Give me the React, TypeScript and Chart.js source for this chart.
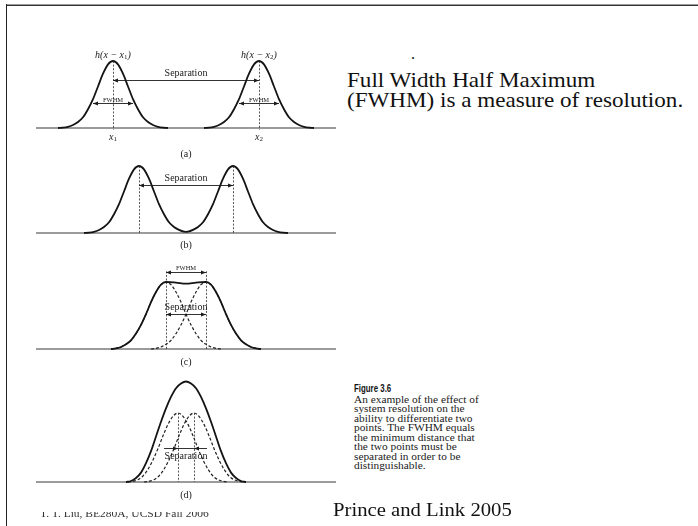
import React, { useEffect, useRef } from "react";
import { Chart, registerables } from "chart.js";
Chart.register(...registerables);

// ================= DATA =================
// Panel (a): two widely separated point responses
const aPeaks = [77, 223];
const aLeftX = [22, 27, 32, 37, 42, 47, 52, 57, 62, 67, 72, 77, 82, 87, 92, 97, 102, 107, 112, 117, 122, 127, 132];
const aLeftY = [0, 0.005, 0.018, 0.045, 0.09, 0.16, 0.28, 0.43, 0.62, 0.81, 0.95, 1, 0.95, 0.81, 0.62, 0.43, 0.28, 0.16, 0.09, 0.045, 0.018, 0.005, 0];
const aRightX = [168, 173, 178, 183, 188, 193, 198, 203, 208, 213, 218, 223, 228, 233, 238, 243, 248, 253, 258, 263, 268, 273, 278];
const aRightY = [0, 0.005, 0.018, 0.045, 0.09, 0.16, 0.28, 0.43, 0.62, 0.81, 0.95, 1, 0.95, 0.81, 0.62, 0.43, 0.28, 0.16, 0.09, 0.045, 0.018, 0.005, 0];

// Panel (b): separated, valley reaches the baseline
const bPeaks = [103, 197];
const bX = [48, 53, 58, 63, 68, 73, 78, 83, 88, 93, 98, 103, 108, 113, 118, 123, 128, 133, 138, 143, 148, 150, 152, 157, 162, 167, 172, 177, 182, 187, 192, 197, 202, 207, 212, 217, 222, 227, 232, 237, 242, 247, 252];
const bY = [0, 0.005, 0.018, 0.045, 0.09, 0.16, 0.28, 0.43, 0.62, 0.81, 0.95, 1, 0.95, 0.81, 0.62, 0.43, 0.28, 0.16, 0.09, 0.047, 0.02, 0.018, 0.02, 0.047, 0.09, 0.16, 0.28, 0.43, 0.62, 0.81, 0.95, 1, 0.95, 0.81, 0.62, 0.43, 0.28, 0.16, 0.09, 0.045, 0.018, 0.005, 0];

// Panel (c): separation equal to FWHM
const cPeaks = [130, 170];
const cSolidX = [75, 80, 85, 90, 95, 100, 105, 110, 115, 120, 125, 130, 140, 150, 160, 170, 175, 180, 185, 190, 195, 200, 205, 210, 215, 220, 225];
const cSolidY = [0, 0.01, 0.03, 0.07, 0.13, 0.23, 0.36, 0.52, 0.7, 0.85, 0.96, 1, 0.99, 0.975, 0.99, 1, 0.96, 0.85, 0.7, 0.52, 0.36, 0.23, 0.13, 0.07, 0.03, 0.01, 0];
const cDashLeftX = [75, 80, 85, 90, 95, 100, 105, 110, 115, 120, 125, 130, 135, 140, 145, 150, 155, 160, 165, 170, 175, 180, 185];
const cDashLeftY = [0, 0.01, 0.03, 0.07, 0.13, 0.23, 0.36, 0.52, 0.7, 0.85, 0.96, 1, 0.96, 0.85, 0.7, 0.52, 0.36, 0.23, 0.13, 0.07, 0.03, 0.01, 0];
const cDashRightX = [115, 120, 125, 130, 135, 140, 145, 150, 155, 160, 165, 170, 175, 180, 185, 190, 195, 200, 205, 210, 215, 220, 225];
const cDashRightY = [0, 0.01, 0.03, 0.07, 0.13, 0.23, 0.36, 0.52, 0.7, 0.85, 0.96, 1, 0.96, 0.85, 0.7, 0.52, 0.36, 0.23, 0.13, 0.07, 0.03, 0.01, 0];

// Panel (d): separation smaller than FWHM, the sum shows one peak
const dPeaks = [142, 158];
const dSolidX = [90, 95, 100, 105, 110, 115, 120, 125, 130, 135, 140, 145, 150, 155, 160, 165, 170, 175, 180, 185, 190, 195, 200, 205, 210];
const dSolidY = [0, 0.015, 0.06, 0.14, 0.28, 0.46, 0.68, 0.9, 1.1, 1.27, 1.4, 1.47, 1.5, 1.47, 1.4, 1.27, 1.1, 0.9, 0.68, 0.46, 0.28, 0.14, 0.06, 0.015, 0];
const dDashLeftX = [92, 97, 102, 107, 112, 117, 122, 127, 132, 137, 142, 147, 152, 157, 162, 167, 172, 177, 182, 187, 192];
const dDashLeftY = [0, 0.01, 0.035, 0.09, 0.19, 0.33, 0.5, 0.69, 0.86, 0.98, 1.03, 0.98, 0.86, 0.69, 0.5, 0.33, 0.19, 0.09, 0.035, 0.01, 0];
const dDashRightX = [108, 113, 118, 123, 128, 133, 138, 143, 148, 153, 158, 163, 168, 173, 178, 183, 188, 193, 198, 203, 208];
const dDashRightY = [0, 0.01, 0.035, 0.09, 0.19, 0.33, 0.5, 0.69, 0.86, 0.98, 1.03, 0.98, 0.86, 0.69, 0.5, 0.33, 0.19, 0.09, 0.035, 0.01, 0];

const baseX = [0, 300];
const baseY = [0, 0];

// ================= STYLE / LAYOUT =================
const SERIF = '"Liberation Serif", "Times New Roman", serif';
const SANS = '"Liberation Sans", Arial, sans-serif';
const UNIT = 67; // pixels per unit height
const INK = "#141414";

type Seg = { s: string; f: string; dy?: number };
type Txt = { segs: Seg[]; x: number; y: number };
type Arrow = { x1: number; x2: number; y: number; mode: "out" | "in"; ext?: [number, number] };
type VLine = { x: number; y1: number; y2: number };
type Ann = { texts: Txt[]; arrows: Arrow[]; vlines: VLine[] };

const it10 = `italic 10px ${SERIF}`;
const rm10 = `10px ${SERIF}`;
const sub7 = `7px ${SERIF}`;
const sm = `6.5px ${SERIF}`;

const plain = (s: string, f: string, x: number, y: number): Txt => ({ segs: [{ s, f }], x, y });
const hLabel = (n: string, x: number, y: number): Txt => ({
  segs: [{ s: "h(x \u2212 x", f: it10 }, { s: n, f: sub7, dy: 2.5 }, { s: ")", f: it10 }],
  x, y,
});
const xLabel = (n: string, x: number, y: number): Txt => ({
  segs: [{ s: "x", f: it10 }, { s: n, f: sub7, dy: 2.5 }],
  x, y,
});

const line = (xs: number[], ys: number[], color: string, width: number, dash: number[] = []) => ({
  data: xs.map((x, i) => ({ x, y: ys[i] })),
  borderColor: color,
  borderWidth: width,
  borderDash: dash,
  pointRadius: 0,
  fill: false,
  cubicInterpolationMode: "monotone" as const,
});

const annPlugin = {
  id: "ann",
  afterDatasetsDraw(chart: any, _a: any, opts: any) {
    const ann = opts as Ann;
    if (!ann || !ann.texts) return;
    const { ctx } = chart;
    const sx = chart.scales.x, sy = chart.scales.y;
    const px = (v: number) => sx.getPixelForValue(v);
    const py = (v: number) => sy.getPixelForValue(v);
    ctx.save();
    ctx.strokeStyle = "#2a2a2a";
    ctx.lineWidth = 0.8;
    ctx.setLineDash([2, 1.6]);
    for (const v of ann.vlines) {
      ctx.beginPath();
      ctx.moveTo(Math.round(px(v.x)) + 0.5, py(v.y1));
      ctx.lineTo(Math.round(px(v.x)) + 0.5, py(v.y2));
      ctx.stroke();
    }
    ctx.setLineDash([]);
    ctx.strokeStyle = "#1c1c1c";
    ctx.fillStyle = "#1c1c1c";
    ctx.lineWidth = 0.9;
    for (const a of ann.arrows) {
      const y = Math.round(py(a.y)) + 0.5;
      const x1 = px(a.x1), x2 = px(a.x2);
      const l1 = a.ext ? px(a.ext[0]) : x1;
      const l2 = a.ext ? px(a.ext[1]) : x2;
      ctx.beginPath();
      ctx.moveTo(l1, y);
      ctx.lineTo(l2, y);
      ctx.stroke();
      const head = (x: number, dir: number) => {
        ctx.beginPath();
        ctx.moveTo(x, y);
        ctx.lineTo(x - dir * 5, y - 2);
        ctx.lineTo(x - dir * 5, y + 2);
        ctx.closePath();
        ctx.fill();
      };
      if (a.mode === "out") { head(x1, -1); head(x2, 1); }
      else { head(x1, 1); head(x2, -1); }
    }
    ctx.fillStyle = "#1a1a1a";
    ctx.textBaseline = "middle";
    ctx.textAlign = "left";
    for (const t of ann.texts) {
      let w = 0;
      for (const s of t.segs) { ctx.font = s.f; w += ctx.measureText(s.s).width; }
      let x = px(t.x) - w / 2;
      const y = py(t.y);
      for (const s of t.segs) {
        ctx.font = s.f;
        ctx.fillText(s.s, x, y + (s.dy || 0));
        x += ctx.measureText(s.s).width;
      }
    }
    ctx.restore();
  },
};

type Geom = { top: number; base: number; bottom: number };

function Panel({ geom, datasets, ann }: { geom: Geom; datasets: any[]; ann: Ann }) {
  const ref = useRef<HTMLCanvasElement>(null);
  useEffect(() => {
    const ymax = (geom.base - geom.top) / UNIT;
    const ymin = -(geom.bottom - geom.base) / UNIT;
    const chart = new Chart(ref.current as HTMLCanvasElement, {
      type: "line",
      data: { datasets },
      options: {
        responsive: false,
        animation: false,
        devicePixelRatio: 1,
        events: [],
        layout: { padding: 0 },
        plugins: { legend: { display: false }, tooltip: { enabled: false }, ann } as any,
        scales: {
          x: { type: "linear", min: 0, max: 300, display: false },
          y: { type: "linear", min: ymin, max: ymax, display: false },
        },
        elements: { point: { radius: 0 } },
      },
      plugins: [annPlugin as any],
    });
    return () => chart.destroy();
  }, []);
  return (
    <canvas
      ref={ref}
      width={300}
      height={geom.bottom - geom.top}
      style={{ position: "absolute", left: 36, top: geom.top, width: 300, height: geom.bottom - geom.top }}
    />
  );
}

const baseline = () => line(baseX, baseY, "#7a7a7a", 1.6);

export default function App() {
  const mid = 150;
  const panels: { geom: Geom; datasets: any[]; ann: Ann }[] = [
    {
      geom: { top: 40, base: 128, bottom: 166 },
      datasets: [line(aLeftX, aLeftY, INK, 1.8), line(aRightX, aRightY, INK, 1.8), baseline()],
      ann: {
        vlines: [
          { x: aPeaks[0], y1: 1, y2: -0.03 },
          { x: aPeaks[1], y1: 1, y2: -0.03 },
        ],
        arrows: [
          { x1: aPeaks[0], x2: aPeaks[1], y: 0.716, mode: "out" },
          { x1: aPeaks[0] - 20, x2: aPeaks[0] + 20, y: 0.373, mode: "out" },
          { x1: aPeaks[1] - 20, x2: aPeaks[1] + 20, y: 0.373, mode: "out" },
        ],
        texts: [
          hLabel("1", aPeaks[0], 1.09),
          hLabel("2", aPeaks[1], 1.09),
          plain("Separation", rm10, mid, 0.82),
          plain("FWHM", sm, aPeaks[0], 0.42),
          plain("FWHM", sm, aPeaks[1], 0.42),
          xLabel("1", aPeaks[0], -0.134),
          xLabel("2", aPeaks[1], -0.134),
          plain("(a)", rm10, mid, -0.4),
        ],
      },
    },
    {
      geom: { top: 150, base: 233, bottom: 256 },
      datasets: [line(bX, bY, INK, 1.8), baseline()],
      ann: {
        vlines: [
          { x: bPeaks[0], y1: 1, y2: 0 },
          { x: bPeaks[1], y1: 1, y2: 0 },
        ],
        arrows: [{ x1: bPeaks[0], x2: bPeaks[1], y: 0.716, mode: "out" }],
        texts: [plain("Separation", rm10, mid, 0.82), plain("(b)", rm10, mid, -0.19)],
      },
    },
    {
      geom: { top: 258, base: 349, bottom: 372 },
      datasets: [
        line(cSolidX, cSolidY, INK, 1.8),
        line(cDashLeftX, cDashLeftY, "#222", 1.2, [3, 2]),
        line(cDashRightX, cDashRightY, "#222", 1.2, [3, 2]),
        baseline(),
      ],
      ann: {
        vlines: [
          { x: cPeaks[0], y1: 1.16, y2: 0 },
          { x: cPeaks[1], y1: 1.16, y2: 0 },
        ],
        arrows: [
          { x1: cPeaks[0], x2: cPeaks[1], y: 1.15, mode: "out" },
          { x1: cPeaks[0], x2: cPeaks[1], y: 0.522, mode: "out" },
        ],
        texts: [
          plain("FWHM", sm, mid, 1.21),
          plain("Separation", rm10, mid, 0.627),
          plain("(c)", rm10, mid, -0.194),
        ],
      },
    },
    {
      geom: { top: 372, base: 482, bottom: 505 },
      datasets: [
        line(dSolidX, dSolidY, INK, 1.8),
        line(dDashLeftX, dDashLeftY, "#222", 1.2, [3, 2]),
        line(dDashRightX, dDashRightY, "#222", 1.2, [3, 2]),
        baseline(),
      ],
      ann: {
        vlines: [
          { x: dPeaks[0], y1: 1.03, y2: 0 },
          { x: dPeaks[1], y1: 1.03, y2: 0 },
        ],
        arrows: [{ x1: dPeaks[0], x2: dPeaks[1], y: 0.507, mode: "in", ext: [128, 171] }],
        texts: [plain("Separation", rm10, mid, 0.388), plain("(d)", rm10, mid, -0.194)],
      },
    },
  ];

  const captionLines = [
    "An example of the effect of",
    "system resolution on the",
    "ability to differentiate two",
    "points. The FWHM equals",
    "the minimum distance that",
    "the two points must be",
    "separated in order to be",
    "distinguishable.",
  ];

  return (
    <div style={{ position: "absolute", left: 0, top: 0, width: 698, height: 526, background: "#fff", overflow: "hidden" }}>
      <div style={{ position: "absolute", left: 6, top: 4, width: 692, height: 1, background: "#9a9a9a" }} />
      <div style={{ position: "absolute", left: 6, top: 5, width: 692, height: 1, background: "#333" }} />
      <div style={{ position: "absolute", left: 6, top: 4, width: 1, height: 522, background: "#222" }} />

      {panels.map((p, i) => (
        <Panel key={i} geom={p.geom} datasets={p.datasets} ann={p.ann} />
      ))}

      <div style={{ position: "absolute", left: 411, top: 46, font: `16px ${SERIF}`, lineHeight: "16px", color: "#111" }}>.</div>

      <div
        style={{
          position: "absolute", left: 347, top: 70, font: `22px ${SERIF}`, lineHeight: "20px",
          color: "#111", whiteSpace: "pre", transform: "scaleX(1.05)", transformOrigin: "left top",
        }}
      >
        {"Full Width Half Maximum\n(FWHM) is a measure of resolution."}
      </div>

      <div
        style={{
          position: "absolute", left: 354, top: 383.2, font: `bold 10.5px ${SANS}`, lineHeight: "10px",
          color: "#111", whiteSpace: "pre", transform: "scaleX(0.75)", transformOrigin: "left top",
        }}
      >
        Figure 3.6
      </div>
      <div
        style={{
          position: "absolute", left: 354, top: 394.6, font: `10.5px ${SERIF}`, lineHeight: "9.5px",
          color: "#1a1a1a", whiteSpace: "pre", transform: "scaleX(1.08)", transformOrigin: "left top",
        }}
      >
        {captionLines.join("\n")}
      </div>

      <div
        style={{
          position: "absolute", left: 333, top: 500, font: `18px ${SERIF}`, lineHeight: "20px",
          color: "#111", whiteSpace: "pre", transform: "scaleX(1.15)", transformOrigin: "left top",
        }}
      >
        Prince and Link 2005
      </div>

      <div style={{ position: "absolute", left: 40, top: 512, width: 200, height: 7, overflow: "hidden" }}>
        <div
          style={{
            position: "absolute", left: 0, top: -3.4, font: `10px ${SERIF}`, lineHeight: "10px",
            color: "#333", whiteSpace: "pre", transform: "scaleX(1.15)", transformOrigin: "left top",
          }}
        >
          T. T. Liu, BE280A, UCSD Fall 2006
        </div>
      </div>
    </div>
  );
}
